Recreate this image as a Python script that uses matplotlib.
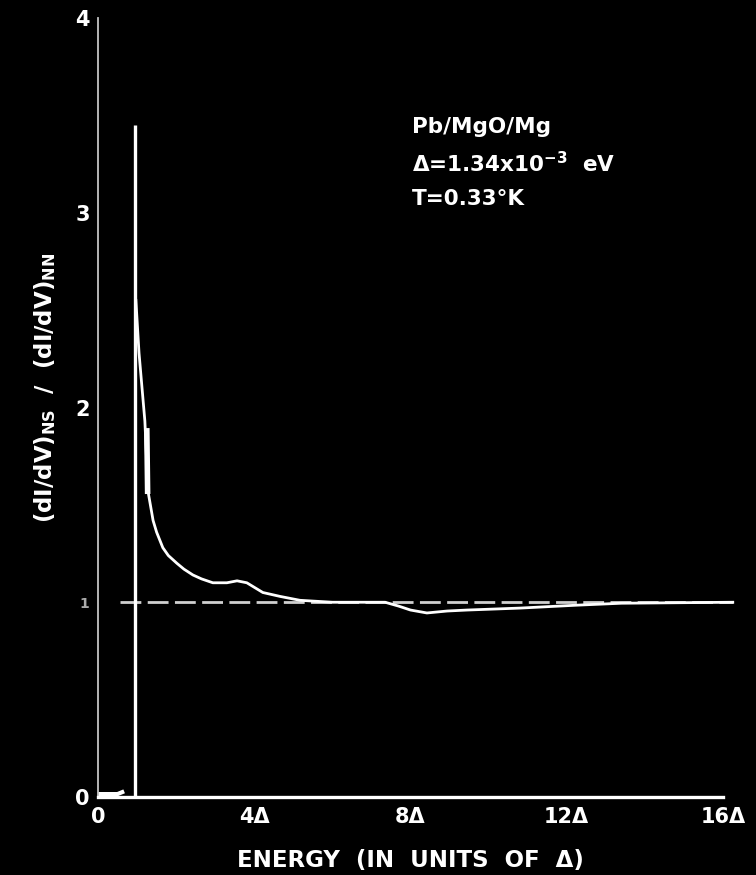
import numpy as np
import matplotlib.pyplot as plt

# data (energy in units of delta, conductance ratio)
spike_e = 0.95
spike_top = 3.45

curve_e = [0.97, 1.05, 1.2, 1.28, 1.41, 1.5, 1.66, 1.8, 2.02, 2.2, 2.43, 2.65, 2.94, 3.3,
           3.56, 3.81, 4.22, 4.66, 5.17, 6.0, 7.35, 7.7, 8.0, 8.42, 8.94, 9.45, 10.8,
           12.26, 13.4, 16.25]
curve_v = [2.55, 2.28, 1.93, 1.57, 1.42, 1.36, 1.28, 1.24, 1.20, 1.17, 1.14, 1.12, 1.10,
           1.10, 1.11, 1.10, 1.05, 1.03, 1.01, 1.0, 1.0, 0.98, 0.96, 0.945, 0.955, 0.96,
           0.97, 0.985, 0.995, 1.0]

# thick pen strokes on the curve
stroke_e = [1.25, 1.27]
stroke_v = [1.88, 1.57]
base_e = [0.05, 0.5, 0.62]
base_v = [0.015, 0.015, 0.025]

ref_e = [0.56, 16.25]
ref_v = [1.0, 1.0]

xticks = [0, 4, 8, 12, 16]
xlabels = ['0', '4Δ', '8Δ', '12Δ', '16Δ']
yticks = [0, 1, 2, 3, 4]
ylabels = ['0', '1', '2', '3', '4']

plt.rcParams['font.family'] = ['DejaVu Sans']
plt.rcParams['font.weight'] = 'bold'
plt.rcParams['mathtext.default'] = 'regular'

fig = plt.figure(figsize=(7.56, 8.75), dpi=100, facecolor='black')
ax = fig.add_axes([98 / 756, 78 / 875, 625 / 756, 779 / 875], facecolor='black')

ax.plot(ref_e, ref_v, color='#d0d0d0', lw=2, dashes=(7.5, 2.3), clip_on=False)
ax.plot([spike_e, spike_e], [0, spike_top], color='white', lw=2.4, solid_capstyle='butt')
ax.plot(curve_e, curve_v, color='white', lw=2, clip_on=False)
ax.plot(stroke_e, stroke_v, color='white', lw=4)
ax.plot(base_e, base_v, color='white', lw=3, clip_on=False)

ax.set_xlim(0, 16)
ax.set_ylim(0, 4)

for s in ['top', 'right']:
    ax.spines[s].set_visible(False)
ax.spines['left'].set_color('#c4c4c4')
ax.spines['left'].set_linewidth(1.3)
ax.spines['bottom'].set_color('white')
ax.spines['bottom'].set_linewidth(2.4)

ax.set_xticks(xticks)
ax.set_xticklabels(xlabels)
ax.set_yticks(yticks)
ax.set_yticklabels(ylabels)
ax.tick_params(which='major', length=0, colors='white', labelsize=15)
ax.tick_params(axis='x', pad=7)
ax.tick_params(axis='y', pad=6)
ax.yaxis.get_ticklabels()[1].set_fontsize(10)
ax.yaxis.get_ticklabels()[1].set_color('#aaaaaa')
ax.set_yticks([2], minor=True)
ax.tick_params(axis='y', which='minor', direction='in', length=11, width=1.3, color='#c4c4c4')
ax.yaxis.set_minor_formatter(plt.NullFormatter())

ax.set_xlabel('ENERGY  (IN  UNITS  OF  Δ)', color='white', fontsize=16.5,
              fontweight='bold', va='center')
ax.xaxis.set_label_coords(0.5, -0.081)
ax.set_ylabel('(dI/dV)$_{NS}$  /  (dI/dV)$_{NN}$', color='white', fontsize=16.5,
              fontweight='bold', va='center')
ax.yaxis.set_label_coords(-0.085, 0.525)

ax.text(8.04, 3.41, 'Pb/MgO/Mg', color='white', fontsize=15.5)
ax.text(8.04, 3.21, 'Δ=1.34x10$^{-3}$  eV', color='white', fontsize=15.5)
ax.text(8.04, 3.04, 'T=0.33°K', color='white', fontsize=15.5)

fig.savefig('out.png', dpi=100, facecolor='black')
